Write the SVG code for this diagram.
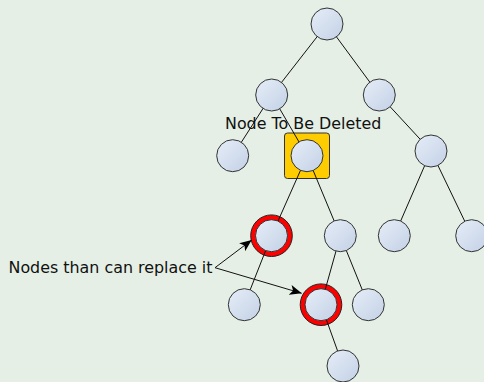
<svg xmlns="http://www.w3.org/2000/svg" width="484" height="382" viewBox="0 0 484 382">
<defs>
<linearGradient id="g" x1="0" y1="0" x2="1" y2="1">
<stop offset="0" stop-color="#e6edf7"/>
<stop offset="1" stop-color="#c3d1e6"/>
</linearGradient>
<marker id="ah" viewBox="0 0 12 10" refX="12" refY="5" markerWidth="12" markerHeight="10" markerUnits="userSpaceOnUse" orient="auto">
<path d="M0,0 L12,5 L0,10 L3,5 Z" fill="#000"/>
</marker>
<style>
.n{fill:url(#g);stroke:#333;stroke-width:1}
.e{stroke:#111;stroke-width:1;fill:none}
.hl{fill:#ff0000;stroke:#222;stroke-width:1}
.t{font-family:"DejaVu Sans",sans-serif;font-size:15.9px;fill:#111}
</style>
</defs>
<rect width="484" height="382" fill="#e5efe5"/>
<g id="highlights">
<rect x="284.5" y="133" width="45" height="45.5" rx="3" fill="#ffcc00" stroke="#333" stroke-width="1"/>
<circle cx="271.5" cy="235.7" r="20.8" class="hl"/>
<circle cx="321" cy="304.7" r="20.8" class="hl"/>
</g>
<g id="connectors">
<line class="e" x1="327" y1="24" x2="271.7" y2="95"/>
<line class="e" x1="327" y1="24" x2="379.3" y2="95"/>
<line class="e" x1="271.7" y1="95" x2="232.7" y2="155.7"/>
<line class="e" x1="271.7" y1="95" x2="307" y2="155.7"/>
<line class="e" x1="379.3" y1="95" x2="431" y2="151"/>
<line class="e" x1="431" y1="151" x2="394.3" y2="235.7"/>
<line class="e" x1="431" y1="151" x2="471.7" y2="235.7"/>
<line class="e" x1="307" y1="155.7" x2="271.5" y2="235.7"/>
<line class="e" x1="307" y1="155.7" x2="340.3" y2="235.7"/>
<line class="e" x1="271.5" y1="235.7" x2="244.3" y2="304.7"/>
<line class="e" x1="340.3" y1="235.7" x2="321" y2="304.7"/>
<line class="e" x1="340.3" y1="235.7" x2="368.3" y2="304.7"/>
<line class="e" x1="321" y1="304.7" x2="343" y2="366"/>
<line class="e" x1="215" y1="267.7" x2="251.7" y2="240" marker-end="url(#ah)"/>
<line class="e" x1="215" y1="267.7" x2="301.7" y2="293.3" marker-end="url(#ah)"/>
</g>
<g id="root"><circle class="n" cx="327" cy="24" r="16"/></g>
<g id="n_l"><circle class="n" cx="271.7" cy="95" r="16"/></g>
<g id="n_r"><circle class="n" cx="379.3" cy="95" r="16"/></g>
<g id="n_ll"><circle class="n" cx="232.7" cy="155.7" r="16"/></g>
<g id="n_del"><circle class="n" cx="307" cy="155.7" r="16"/></g>
<g id="n_rr"><circle class="n" cx="431" cy="151" r="16"/></g>
<g id="n_rrl"><circle class="n" cx="394.3" cy="235.7" r="16"/></g>
<g id="n_rrr"><circle class="n" cx="471.7" cy="235.7" r="16"/></g>
<g id="n_red1"><circle class="n" cx="271.5" cy="235.7" r="16"/></g>
<g id="n_dr"><circle class="n" cx="340.3" cy="235.7" r="16"/></g>
<g id="n_red1l"><circle class="n" cx="244.3" cy="304.7" r="16"/></g>
<g id="n_red2"><circle class="n" cx="321" cy="304.7" r="16"/></g>
<g id="n_drr"><circle class="n" cx="368.3" cy="304.7" r="16"/></g>
<g id="n_red2r"><circle class="n" cx="343" cy="366" r="16"/></g>
<g id="labels">
<text class="t" x="225" y="128.5">Node To Be Deleted</text>
<text class="t" x="8.5" y="272.5">Nodes than can replace it</text>
</g>
</svg>
